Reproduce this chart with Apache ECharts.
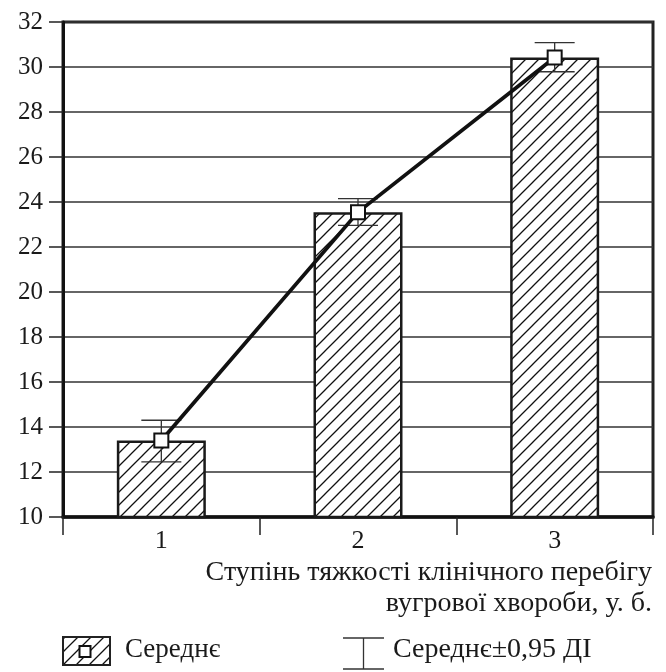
<!DOCTYPE html>
<html><head><meta charset="utf-8">
<script src="https://cdn.jsdelivr.net/npm/echarts@6/dist/echarts.min.js"></script>
<style>html,body{margin:0;padding:0;background:#fff}#c{width:666px;height:672px}</style>
</head><body><div id="c"></div>
<script>
// ---- data ----
const categories = ['1', '2', '3'];
const meanValues = [13.4, 23.55, 30.42];
const ciLow = [12.45, 22.96, 29.79];
const ciHigh = [14.3, 24.15, 31.08];
const yMin = 10, yMax = 32, yStep = 2;
const axisTitleLines = ['Ступінь тяжкості клінічного перебігу', 'вугрової хвороби, у. б.'];
const legendMean = 'Середнє';
const legendCI = 'Середнє±0,95 ДІ';

// ---- hatch pattern ----
function makeHatch(T) {
  const c = document.createElement('canvas');
  c.width = T; c.height = T;
  const g = c.getContext('2d');
  g.fillStyle = '#fff'; g.fillRect(0, 0, T, T);
  g.strokeStyle = '#111'; g.lineWidth = 1.3;
  g.beginPath();
  g.moveTo(0, T); g.lineTo(T, 0);
  g.moveTo(-2, 2); g.lineTo(2, -2);
  g.moveTo(T - 2, T + 2); g.lineTo(T + 2, T - 2);
  g.stroke();
  return c;
}
const hatch = { image: makeHatch(13), repeat: 'repeat' };
const FONT = '"Liberation Serif", "Times New Roman", serif';

const chart = echarts.init(document.getElementById('c'), null, { renderer: 'canvas' });
chart.setOption({
  animation: false,
  backgroundColor: '#fff',
  grid: { left: 63, right: 13, top: 22, bottom: 155, show: true, borderColor: '#222', borderWidth: 3, backgroundColor: 'transparent' },
  xAxis: {
    type: 'category', data: categories, boundaryGap: true,
    axisLine: { lineStyle: { color: '#111', width: 3.5 } },
    axisTick: { show: true, length: 18, lineStyle: { color: '#222', width: 1.5 } },
    axisLabel: { color: '#1a1a1a', fontFamily: FONT, fontSize: 26, margin: 11 }
  },
  yAxis: {
    type: 'value', min: yMin, max: yMax, interval: yStep,
    axisLine: { show: true, lineStyle: { color: '#111', width: 3 } },
    axisTick: { show: true, length: 14, lineStyle: { color: '#222', width: 1.5 } },
    axisLabel: { color: '#1a1a1a', fontFamily: FONT, fontSize: 25, margin: 20 },
    splitLine: { lineStyle: { color: '#333', width: 1.5 } }
  },
  series: [
    {
      type: 'bar', name: legendMean, data: meanValues, barWidth: 89, z: 2,
      itemStyle: { color: hatch, borderColor: '#1a1a1a', borderWidth: 2.5 }
    },
    {
      type: 'custom', name: legendCI, z: 3,
      data: categories.map((c, i) => [i, ciLow[i], ciHigh[i]]),
      renderItem: function (params, api) {
        const x = api.value(0);
        const lo = api.coord([x, api.value(1)]);
        const hi = api.coord([x, api.value(2)]);
        const w = 20;
        const st = { stroke: '#333', lineWidth: 1.3 };
        return {
          type: 'group', children: [
            { type: 'line', shape: { x1: lo[0], y1: lo[1], x2: hi[0], y2: hi[1] }, style: st },
            { type: 'line', shape: { x1: hi[0] - w, y1: hi[1], x2: hi[0] + w, y2: hi[1] }, style: st },
            { type: 'line', shape: { x1: lo[0] - w, y1: lo[1], x2: lo[0] + w, y2: lo[1] }, style: st }
          ]
        };
      }
    },
    {
      type: 'line', data: meanValues, z: 5,
      symbol: 'rect', symbolSize: 14, showSymbol: true,
      lineStyle: { color: '#111', width: 3.8 },
      itemStyle: { color: '#fff', borderColor: '#111', borderWidth: 2 }
    }
  ],
  graphic: [
    { type: 'text', right: 14, top: 559, style: { text: axisTitleLines[0], fill: '#1a1a1a', font: '28px ' + FONT, textAlign: 'right' } },
    { type: 'text', right: 14, top: 590, style: { text: axisTitleLines[1], fill: '#1a1a1a', font: '28px ' + FONT, textAlign: 'right' } },
    { type: 'rect', shape: { x: 63, y: 637, width: 47, height: 28 }, style: { fill: hatch, stroke: '#222', lineWidth: 2 } },
    { type: 'rect', shape: { x: 79.5, y: 646, width: 11, height: 11 }, style: { fill: '#fff', stroke: '#111', lineWidth: 2 } },
    { type: 'text', left: 125, top: 636, style: { text: legendMean, fill: '#1a1a1a', font: '27px ' + FONT } },
    { type: 'line', shape: { x1: 343, y1: 638, x2: 384, y2: 638 }, style: { stroke: '#333', lineWidth: 1.3 } },
    { type: 'line', shape: { x1: 343, y1: 669, x2: 384, y2: 669 }, style: { stroke: '#333', lineWidth: 1.3 } },
    { type: 'line', shape: { x1: 363.5, y1: 638, x2: 363.5, y2: 669 }, style: { stroke: '#333', lineWidth: 1.3 } },
    { type: 'text', left: 393, top: 636, style: { text: legendCI, fill: '#1a1a1a', font: '28px ' + FONT } }
  ]
});
</script>
</body></html>
